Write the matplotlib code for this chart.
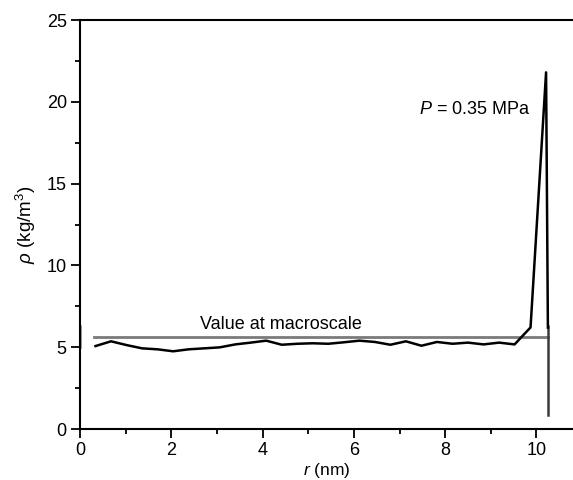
import matplotlib
matplotlib.use("Agg")
import matplotlib.pyplot as plt
from matplotlib.ticker import MultipleLocator

plt.rcParams['font.family'] = ['Liberation Sans', 'DejaVu Sans']
plt.rcParams['mathtext.fontset'] = 'custom'
plt.rcParams['mathtext.it'] = 'Liberation Sans:italic'
plt.rcParams['mathtext.rm'] = 'Liberation Sans'

r = [0.34, 0.68, 1.02, 1.36, 1.70, 2.04, 2.38, 2.72, 3.06, 3.40,
     3.74, 4.08, 4.42, 4.76, 5.10, 5.44, 5.78, 6.12, 6.46, 6.80,
     7.14, 7.48, 7.82, 8.16, 8.50, 8.84, 9.18, 9.52, 9.87, 10.21, 10.25]
rho = [5.07, 5.36, 5.13, 4.93, 4.87, 4.75, 4.87, 4.93, 4.99, 5.17,
       5.28, 5.40, 5.15, 5.21, 5.24, 5.21, 5.30, 5.40, 5.32, 5.15,
       5.36, 5.09, 5.32, 5.21, 5.28, 5.17, 5.28, 5.17, 6.21, 21.8, 6.2]
macro_r = [0.31, 10.26]
macro_value = 5.62
edge_r = 10.26
edge_low, edge_high = 0.85, 6.3

fig = plt.figure(figsize=(5.73, 4.8), dpi=100)
ax = fig.add_axes([0.1396, 0.10625, 0.8604, 0.85208])

ax.plot(macro_r, [macro_value, macro_value], color='#7a7a7a', lw=2.0)
ax.plot([edge_r, edge_r], [edge_low, edge_high], color='#3a3a3a', lw=1.8)
ax.plot([0.02, 0.02], [4.95, 6.3], color='#8a8a8a', lw=1.2)
ax.plot(r, rho, color='black', lw=1.8)

ax.set_xlim(0, 10.8)
ax.set_ylim(0, 25)
ax.xaxis.set_major_locator(MultipleLocator(2))
ax.xaxis.set_minor_locator(MultipleLocator(1))
ax.yaxis.set_major_locator(MultipleLocator(5))
ax.yaxis.set_minor_locator(MultipleLocator(2.5))
ax.tick_params(which='major', direction='out', length=6.5, width=1.3, labelsize=13, pad=3)
ax.tick_params(which='minor', direction='out', length=3.5, width=1.3)
ax.spines['right'].set_visible(False)
for s in ['left', 'bottom', 'top']:
    ax.spines[s].set_linewidth(1.5)

ax.set_xlabel(r'$\mathit{r}$ (nm)', fontsize=12.5, labelpad=1)
ax.set_ylabel(r'$\mathit{\rho}$ (kg/m$^3$)', fontsize=13.5, labelpad=6)

ax.text(8.64, 19.5, r'$\mathit{P}$ = 0.35 MPa', fontsize=13, ha='center', va='center')
ax.text(2.63, 6.36, 'Value at macroscale', fontsize=13, ha='left', va='center')

fig.savefig('out.png', dpi=100)
